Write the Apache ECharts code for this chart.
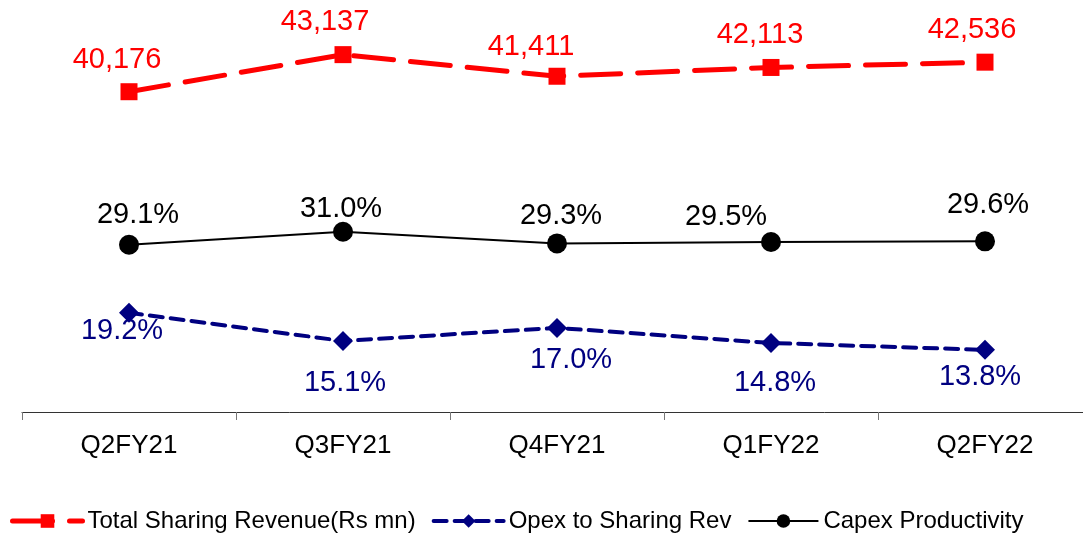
<!DOCTYPE html>
<html>
<head>
<meta charset="utf-8">
<script src="https://cdn.jsdelivr.net/npm/echarts@6/dist/echarts.min.js"></script>
<style>
  html, body { margin: 0; padding: 0; background: #fff; overflow: hidden; }
  /* plot runs past the right edge in the original, so the canvas is a bit wider than the window */
  #chart { width: 1092px; height: 533px; }
</style>
</head>
<body>
<div id="chart"></div>
<script>
// data
const quarters = ['Q2FY21', 'Q3FY21', 'Q4FY21', 'Q1FY22', 'Q2FY22'];
const sharingRevenue = [40176, 43137, 41411, 42113, 42536];
const opexToSharing = [19.2, 15.1, 17.0, 14.8, 13.8];
const capexProductivity = [29.1, 31.0, 29.3, 29.5, 29.6];

// label nudges (px) so the labels sit where the original puts them
const revLabelOffset = [[-12, -32], [-18, -33], [-26, -29], [-11, -32], [-13, -32]];
const opexLabelOffset = [[-7, 18], [2, 42], [14, 32], [4, 40], [-5, 27]];
const capexLabelOffset = [[9, -30], [-2, -23], [4, -27], [-45, -25], [3, -36]];

const FONT = '"Liberation Sans", Arial, sans-serif';

function withOffsets(values, offsets) {
  return values.map((v, i) => ({ value: v, label: { offset: offsets[i] } }));
}

const chart = echarts.init(document.getElementById('chart'));

chart.setOption({
  animation: false,
  textStyle: { fontFamily: FONT },
  grid: { left: 22, top: 0, right: 0, bottom: 121 },
  legend: {
    left: 10,
    top: 509,
    padding: 0,
    itemWidth: 70,
    itemHeight: 17,
    itemGap: 16,
    lineStyle: { width: 'inherit' },
    textStyle: { fontSize: 24, color: '#000', fontFamily: FONT },
    data: ['Total Sharing Revenue(Rs mn)', 'Opex to Sharing Rev', 'Capex Productivity']
  },
  xAxis: {
    type: 'category',
    data: quarters,
    boundaryGap: true,
    axisLine: { lineStyle: { color: '#333', width: 1 } },
    axisTick: { show: true, length: 8, lineStyle: { color: '#777' } },
    axisLabel: { fontSize: 26, color: '#000', margin: 21, fontFamily: FONT }
  },
  yAxis: [
    { type: 'value', min: 4.75, max: 64.75, show: false, splitLine: { show: false } },
    { type: 'value', min: 14600, max: 47500, show: false, splitLine: { show: false } }
  ],
  series: [
    {
      name: 'Total Sharing Revenue(Rs mn)',
      type: 'line',
      yAxisIndex: 1,
      data: withOffsets(sharingRevenue, revLabelOffset),
      symbol: 'rect',
      symbolSize: 17,
      itemStyle: { color: '#ff0000' },
      lineStyle: { color: '#ff0000', width: 5, type: [40, 17], cap: 'round' },
      label: {
        show: true,
        position: 'inside',
        color: '#ff0000',
        fontSize: 29,
        fontFamily: FONT,
        formatter: p => p.value.toLocaleString('en-US')
      }
    },
    {
      name: 'Opex to Sharing Rev',
      type: 'line',
      data: withOffsets(opexToSharing, opexLabelOffset),
      symbol: 'diamond',
      symbolSize: 20,
      itemStyle: { color: '#000080' },
      lineStyle: { color: '#000080', width: 4, type: [13, 8], cap: 'round' },
      label: {
        show: true,
        position: 'inside',
        color: '#000080',
        fontSize: 29,
        fontFamily: FONT,
        formatter: p => p.value.toFixed(1) + '%'
      }
    },
    {
      name: 'Capex Productivity',
      type: 'line',
      data: withOffsets(capexProductivity, capexLabelOffset),
      symbol: 'circle',
      symbolSize: 20,
      itemStyle: { color: '#000' },
      lineStyle: { color: '#000', width: 2 },
      label: {
        show: true,
        position: 'inside',
        color: '#000',
        fontSize: 29,
        fontFamily: FONT,
        formatter: p => p.value.toFixed(1) + '%'
      }
    }
  ]
});
</script>
</body>
</html>
